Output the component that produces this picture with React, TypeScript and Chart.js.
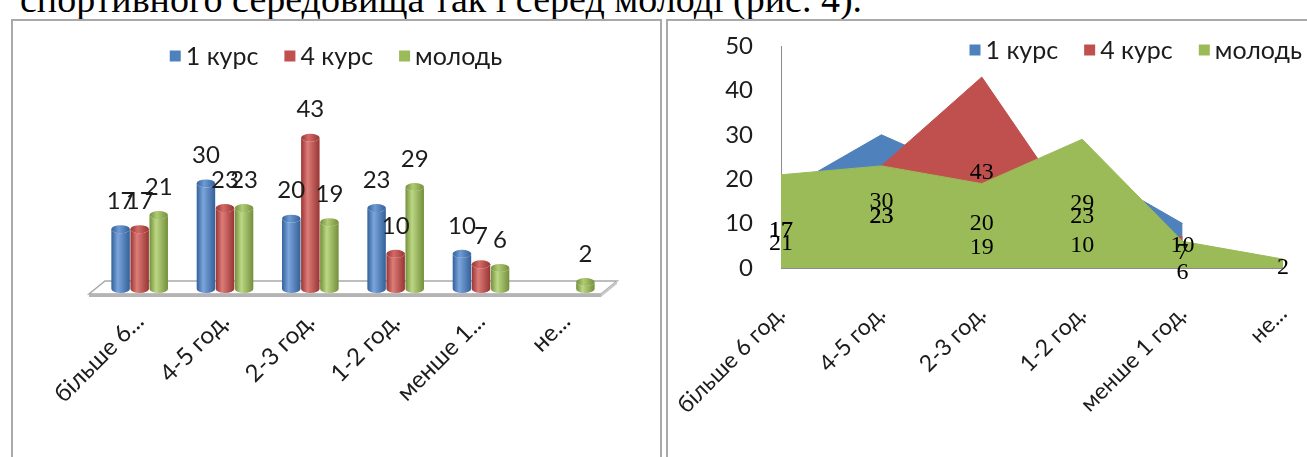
import React, { useEffect, useRef } from "react";
import { Chart, registerables } from "chart.js";

Chart.register(...registerables);

// Categories: hours per day
const categories = ["більше 6 год.", "4-5 год.", "2-3 год.", "1-2 год.", "менше 1 год.", "не..."];
const seriesNames = ["1 курс", "4 курс", "молодь"];
const course1 = [17, 30, 20, 23, 10, null];
const course4 = [17, 23, 43, 10, 7, null];
const youth = [21, 23, 19, 29, 6, 2];
const areaTicks = { min: 0, max: 50, step: 10 };

const seriesColors = ["#4F81BD", "#C0504D", "#9BBB59"];
const cylinderShades = [
  { dark: "#33609A", light: "#7BA5DB", cap: "#6F9BD3" },
  { dark: "#983532", light: "#DD7C79", cap: "#D36A66" },
  { dark: "#748F3C", light: "#BCD884", cap: "#AFCB73" },
];

// Area-chart value labels sit at half the value; the youth labels are
// nudged down (in axis units) so they do not sit on top of the others.
const areaLabelNudge = [
  [0, 0, 0, 0, 0, 0],
  [0, 0, 0, 0, 0, 0],
  [-5, 0, -5, 0, -4, -1],
];

const SANS = "Lato, 'Noto Sans', sans-serif";
const SERIF = "'Liberation Serif', 'Times New Roman', serif";
const TEXT = "#1c1c1c";

const seriesData = [course1, course4, youth];

function shortLabel(label: string) {
  return label.length > 10 ? label.replace(" год.", "...") : label;
}

function drawLegend(chart: any, align: "center" | "right", yMid: number, rightEdge = 0) {
  const ctx = chart.ctx as CanvasRenderingContext2D;
  ctx.save();
  ctx.font = `25px ${SANS}`;
  const box = 11;
  const gap = 5;
  const itemGap = 26;
  const labels: string[] = chart.data.datasets.map((d: any) => d.label);
  const widths = labels.map((l) => box + gap + ctx.measureText(l).width);
  const total = widths.reduce((a, b) => a + b, 0) + itemGap * (labels.length - 1);
  let x = align === "center" ? (chart.width - total) / 2 : rightEdge - total;
  ctx.textBaseline = "middle";
  ctx.textAlign = "left";
  labels.forEach((l, i) => {
    ctx.fillStyle = seriesColors[i];
    ctx.fillRect(x, yMid - box / 2, box, box);
    ctx.fillStyle = TEXT;
    ctx.fillText(l, x + box + gap, yMid + 1);
    x += widths[i] + itemGap;
  });
  ctx.restore();
}

function drawCylinder(
  ctx: CanvasRenderingContext2D,
  x: number,
  top: number,
  base: number,
  w: number,
  shade: { dark: string; light: string; cap: string }
) {
  const rx = w / 2;
  const ry = 4;
  const left = x - rx;
  const right = x + rx;
  const g = ctx.createLinearGradient(left, 0, right, 0);
  g.addColorStop(0, shade.dark);
  g.addColorStop(0.35, shade.light);
  g.addColorStop(1, shade.dark);
  ctx.fillStyle = g;
  ctx.beginPath();
  ctx.moveTo(left, top);
  ctx.lineTo(left, base);
  ctx.ellipse(x, base, rx, ry, 0, Math.PI, 0, true);
  ctx.lineTo(right, top);
  ctx.ellipse(x, top, rx, ry, 0, 0, Math.PI, false);
  ctx.closePath();
  ctx.fill();
  const cg = ctx.createLinearGradient(left, 0, right, 0);
  cg.addColorStop(0, shade.dark);
  cg.addColorStop(0.4, shade.cap);
  cg.addColorStop(1, shade.dark);
  ctx.fillStyle = cg;
  ctx.beginPath();
  ctx.ellipse(x, top, rx, ry, 0, 0, Math.PI * 2);
  ctx.fill();
}

// Floor slab, legend, cylinders and value labels for the column chart
const cylinderPlugin = {
  id: "cylinders",
  beforeDatasetsDraw(chart: any) {
    const ctx = chart.ctx as CanvasRenderingContext2D;
    const { left, right } = chart.chartArea;
    const base = chart.scales.y.getPixelForValue(0);
    ctx.save();
    ctx.beginPath();
    ctx.moveTo(left + 8, base - 8);
    ctx.lineTo(right + 8, base - 8);
    ctx.lineTo(right - 8, base + 5);
    ctx.lineTo(left - 8, base + 5);
    ctx.closePath();
    ctx.fillStyle = "#ffffff";
    ctx.fill();
    ctx.strokeStyle = "#a9a9a9";
    ctx.lineWidth = 1.5;
    ctx.stroke();
    ctx.fillStyle = "#b4b4b4";
    ctx.fillRect(left - 8, base + 5, right - left, 3);
    ctx.beginPath();
    ctx.moveTo(right - 8, base + 5);
    ctx.lineTo(right + 8, base - 8);
    ctx.lineTo(right + 8, base - 5);
    ctx.lineTo(right - 8, base + 8);
    ctx.closePath();
    ctx.fillStyle = "#c9c9c9";
    ctx.fill();
    ctx.restore();
  },
  afterDatasetsDraw(chart: any) {
    const ctx = chart.ctx as CanvasRenderingContext2D;
    ctx.save();
    const labels: { x: number; y: number; t: string }[] = [];
    chart.data.datasets.forEach((ds: any, i: number) => {
      const meta = chart.getDatasetMeta(i);
      meta.data.forEach((el: any, j: number) => {
        const v = ds.data[j];
        if (v == null) return;
        const p = el.getProps(["x", "y", "base", "width"], true);
        drawCylinder(ctx, p.x, p.y, p.base, p.width, cylinderShades[i]);
        labels.push({ x: p.x, y: p.y - 28, t: String(v) });
      });
    });
    ctx.font = `24px ${SANS}`;
    ctx.fillStyle = TEXT;
    ctx.textAlign = "center";
    ctx.textBaseline = "middle";
    labels.forEach((l) => ctx.fillText(l.t, l.x, l.y));
    ctx.restore();
  },
  afterDraw(chart: any) {
    drawLegend(chart, "center", 34);
  },
};

// Legend and value labels for the area chart
const areaPlugin = {
  id: "areaLabels",
  afterDatasetsDraw(chart: any) {
    const ctx = chart.ctx as CanvasRenderingContext2D;
    const y = chart.scales.y;
    ctx.save();
    ctx.font = `24px ${SERIF}`;
    ctx.fillStyle = "#000";
    ctx.textAlign = "center";
    ctx.textBaseline = "middle";
    chart.data.datasets.forEach((ds: any, i: number) => {
      const meta = chart.getDatasetMeta(i);
      meta.data.forEach((el: any, j: number) => {
        const v = ds.data[j];
        if (v == null) return;
        const pos = v / 2 + areaLabelNudge[i][j];
        ctx.fillText(String(v), el.x, y.getPixelForValue(pos));
      });
    });
    ctx.restore();
  },
  afterDraw(chart: any) {
    drawLegend(chart, "right", 28, 633);
  },
};

const noEdgePadding = (s: any) => {
  s.paddingLeft = 0;
  s.paddingRight = 0;
  s.paddingTop = 0;
  s.paddingBottom = 0;
};

function ColumnChart() {
  const ref = useRef<HTMLCanvasElement>(null);
  useEffect(() => {
    const chart = new Chart(ref.current!, {
      type: "bar",
      data: {
        labels: categories,
        datasets: seriesNames.map((name, i) => ({
          label: name,
          data: seriesData[i],
          backgroundColor: "rgba(0,0,0,0)",
          borderWidth: 0,
          categoryPercentage: 0.67,
          barPercentage: 0.97,
        })),
      },
      options: {
        responsive: false,
        animation: false,
        layout: { padding: { top: 77, left: 83, right: 49, bottom: 0 } },
        plugins: { legend: { display: false }, tooltip: { enabled: false } },
        scales: {
          x: {
            grid: { display: false },
            border: { display: false },
            afterFit: (s: any) => {
              s.height = 168;
              noEdgePadding(s);
            },
            ticks: {
              autoSkip: false,
              minRotation: 45,
              maxRotation: 45,
              padding: 10,
              color: TEXT,
              font: { family: SANS, size: 24 },
              callback: (_v: any, i: number) => shortLabel(categories[i]),
            },
          },
          y: { display: false, min: 0, max: 54 },
        },
      } as any,
      plugins: [cylinderPlugin],
    });
    return () => chart.destroy();
  }, []);
  return <canvas ref={ref} width={644} height={435} style={{ display: "block" }} />;
}

function AreaChart() {
  const ref = useRef<HTMLCanvasElement>(null);
  useEffect(() => {
    const chart = new Chart(ref.current!, {
      type: "line",
      data: {
        labels: categories,
        datasets: seriesNames.map((name, i) => ({
          label: name,
          data: seriesData[i],
          backgroundColor: seriesColors[i],
          borderColor: seriesColors[i],
          borderWidth: 1,
          fill: "origin",
          pointRadius: 0,
          tension: 0,
          order: 2 - i,
        })),
      },
      options: {
        responsive: false,
        animation: false,
        layout: { padding: { top: 24, left: 0, right: 24, bottom: 0 } },
        plugins: { legend: { display: false }, tooltip: { enabled: false } },
        scales: {
          x: {
            offset: false,
            grid: { display: false },
            border: { color: "#8c8c8c" },
            afterFit: (s: any) => {
              s.height = 189;
              noEdgePadding(s);
            },
            ticks: {
              autoSkip: false,
              minRotation: 45,
              maxRotation: 45,
              padding: 24,
              color: TEXT,
              font: { family: SANS, size: 23 },
            },
          },
          y: {
            min: areaTicks.min,
            max: areaTicks.max,
            grid: { display: false },
            border: { color: "#8c8c8c" },
            afterFit: (s: any) => {
              s.width = 112;
              noEdgePadding(s);
            },
            ticks: {
              stepSize: areaTicks.step,
              padding: 20,
              color: TEXT,
              font: { family: SANS, size: 24 },
            },
          },
        },
      } as any,
      plugins: [areaPlugin],
    });
    return () => chart.destroy();
  }, []);
  return <canvas ref={ref} width={638} height={435} style={{ display: "block" }} />;
}

export default function App() {
  return (
    <div
      style={{
        position: "fixed",
        left: 0,
        top: 0,
        width: 1307,
        height: 457,
        overflow: "hidden",
        background: "#fff",
      }}
    >
      <div
        style={{
          position: "absolute",
          left: 20,
          top: -20,
          fontFamily: SERIF,
          fontSize: 38,
          lineHeight: "38px",
          whiteSpace: "nowrap",
          color: "#000",
        }}
      >
        спортивного середовища так і серед молоді (рис. 4).
      </div>
      <div
        style={{
          position: "absolute",
          left: 11,
          top: 19,
          width: 647,
          height: 460,
          border: "2px solid #a9a9a9",
          background: "#fff",
        }}
      />
      <div
        style={{
          position: "absolute",
          left: 666,
          top: 19,
          width: 660,
          height: 460,
          borderLeft: "2px solid #a9a9a9",
          borderTop: "2px solid #a9a9a9",
          background: "#fff",
        }}
      />
      <div style={{ position: "absolute", left: 14, top: 22 }}>
        <ColumnChart />
      </div>
      <div style={{ position: "absolute", left: 669, top: 22 }}>
        <AreaChart />
      </div>
    </div>
  );
}
